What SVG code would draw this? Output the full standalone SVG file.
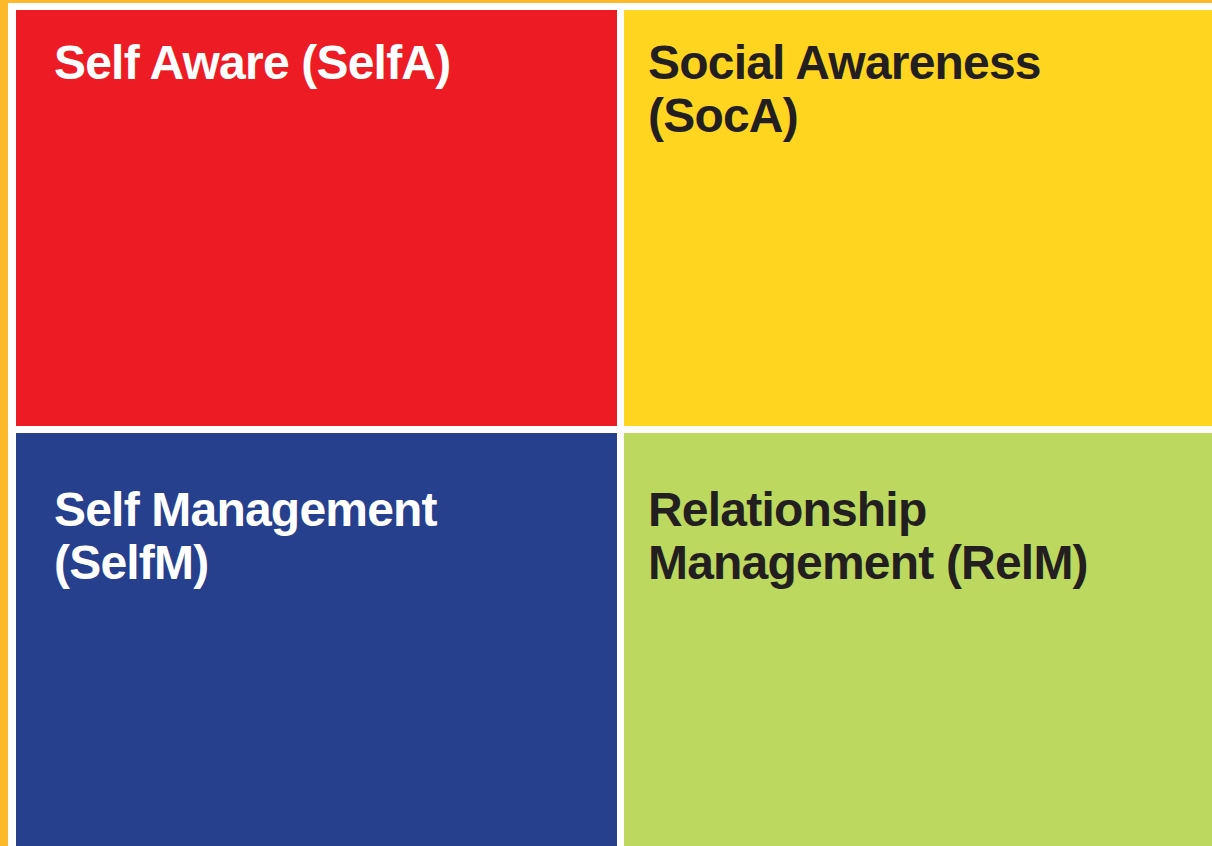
<svg xmlns="http://www.w3.org/2000/svg" width="1212" height="846" viewBox="0 0 1212 846">
  <style>
    .lbl { font-family: "Liberation Sans", Arial, sans-serif; font-weight: bold; font-size: 48px; letter-spacing: -0.8px; }
    .light { fill: #ffffff; }
    .dark { fill: #231f20; }
  </style>
  <!-- outer frame -->
  <rect x="0" y="0" width="1212" height="846" fill="#fdb92a"/>
  <rect x="8" y="3" width="1204" height="843" fill="#ffffff"/>

  <g id="selfa">
    <rect x="16" y="10" width="601" height="416" fill="#ed1c24"/>
    <text class="lbl light" x="54" y="79">Self Aware (SelfA)</text>
  </g>
  <g id="soca">
    <rect x="624" y="10" width="588" height="416" fill="#ffd520"/>
    <text class="lbl dark" x="648" y="79">Social Awareness</text>
    <text class="lbl dark" x="648" y="132">(SocA)</text>
  </g>
  <g id="selfm">
    <rect x="16" y="433" width="601" height="413" fill="#26408e"/>
    <text class="lbl light" x="54" y="526">Self Management</text>
    <text class="lbl light" x="54" y="579">(SelfM)</text>
  </g>
  <g id="relm">
    <rect x="624" y="433" width="588" height="413" fill="#bcd85f"/>
    <text class="lbl dark" x="648" y="526">Relationship</text>
    <text class="lbl dark" x="648" y="579">Management (RelM)</text>
  </g>
  <g id="connectors"></g>
</svg>
